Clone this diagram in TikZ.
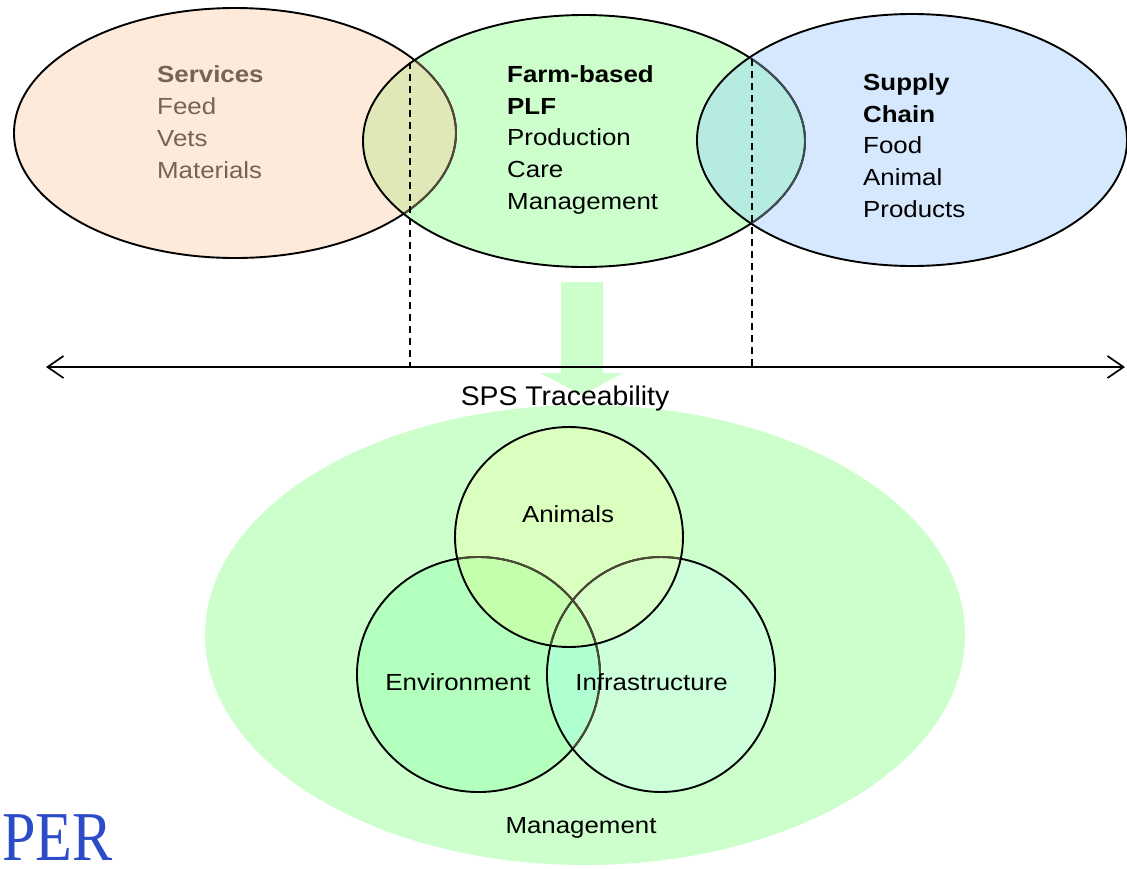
\documentclass[tikz,border=0pt]{standalone}
\usepackage{fontspec}
\setmainfont{Liberation Sans}[FakeStretch=1.11]
\newfontfamily\spsfont{Liberation Sans}[FakeStretch=1.05]
\newfontfamily\perfont{Liberation Serif}[FakeStretch=0.86]
\usetikzlibrary{arrows.meta}
\definecolor{peach}{RGB}{253,234,218}
\definecolor{lgreen}{RGB}{204,255,204}
\definecolor{lblue}{RGB}{213,232,253}
\definecolor{ovL}{RGB}{224,232,184}
\definecolor{ovR}{RGB}{181,235,225}
\definecolor{grayL}{RGB}{85,72,58}
\definecolor{grayR}{RGB}{63,77,85}
\definecolor{grayC}{RGB}{74,74,53}
\definecolor{colA}{RGB}{218,255,190}
\definecolor{colE}{RGB}{178,255,190}
\definecolor{colI}{RGB}{204,255,218}
\definecolor{colAE}{RGB}{196,255,173}
\definecolor{colAI}{RGB}{217,255,200}
\definecolor{colEI}{RGB}{176,255,208}
\definecolor{colAEI}{RGB}{198,255,184}
\definecolor{svc}{RGB}{118,100,82}
\definecolor{perblue}{RGB}{43,75,200}
\begin{document}
\begin{tikzpicture}[x=1pt,y=-1pt,
  bd/.style={draw=black,line width=1.9pt},
  bdL/.style={draw=grayL,line width=1.9pt},
  bdR/.style={draw=grayR,line width=1.9pt},
  bdC/.style={draw=grayC,line width=1.9pt},
  tx/.style={inner sep=0pt,anchor=base west,font=\fontsize{23.3}{28}\selectfont},
  ctx/.style={inner sep=0pt,anchor=base,font=\fontsize{23.3}{28}\selectfont},
  dline/.style={line width=1.5pt,dash pattern=on 7pt off 5pt},
  barb/.tip={Straight Barb[length=16pt,width=22pt]}]
\useasboundingbox (0,0) rectangle (1127,868);
% ---- top ellipses
\def\eL{(235,133) ellipse [x radius=221pt, y radius=125pt]}
\def\eM{(584,141) ellipse [x radius=221pt, y radius=126pt]}
\def\eR{(912,140) ellipse [x radius=215pt, y radius=126pt]}
\fill[peach] \eL;
\fill[lgreen] \eM;
\fill[lblue] \eR;
\begin{scope}\clip \eL; \fill[ovL] \eM; \end{scope}
\begin{scope}\clip \eR; \fill[ovR] \eM; \end{scope}
\draw[bd] \eL;
\begin{scope}\clip \eM; \draw[bdL] \eL; \end{scope}
\draw[bd] \eM;
\begin{scope}\clip \eR; \draw[bdR] \eM; \end{scope}
\draw[bd] \eR;
% texts top
\node[tx,text=svc,font=\fontsize{23.3}{28}\selectfont\bfseries] (svc1) at (157,82) {Services};
\node[tx,text=svc] (svc2) at (157,114) {Feed};
\node[tx,text=svc] (svc3) at (157,146) {Vets};
\node[tx,text=svc] (svc4) at (157,178) {Materials};
\node[tx,font=\fontsize{23.3}{28}\selectfont\bfseries] (plf1) at (507,82) {Farm-based};
\node[tx,font=\fontsize{23.3}{28}\selectfont\bfseries] (plf2) at (507,114) {PLF};
\node[tx] (plf3) at (507,145.5) {Production};
\node[tx] (plf4) at (507,177) {Care};
\node[tx] (plf5) at (507,209) {Management};
\node[tx,font=\fontsize{23.3}{28}\selectfont\bfseries] (sc1) at (863,90) {Supply};
\node[tx,font=\fontsize{23.3}{28}\selectfont\bfseries] (sc2) at (863,122) {Chain};
\node[tx] (sc3) at (863,153.5) {Food};
\node[tx] (sc4) at (863,185) {Animal};
\node[tx] (sc5) at (863,217) {Products};
% ---- big lower ellipse
\fill[lgreen] (585,635) ellipse [x radius=380pt, y radius=230pt];
% ---- green block arrow
\fill[lgreen] (561,282) -- (603,282) -- (603,373) -- (623,373) -- (582,395) -- (540,373) -- (561,373) -- cycle;
% ---- dashed lines and axis
\coordinate (d1a) at (410,62);
\coordinate (d1b) at (410,367);
\coordinate (d2a) at (752,59);
\coordinate (d2b) at (752,367);
\draw[dline] (d1a) -- (d1b);
\draw[dline] (d2a) -- (d2b);
\coordinate (hl) at (46,367);
\coordinate (hr) at (1125,367);
\draw[line width=1.7pt,barb-barb] (hl) -- (hr);
\node[inner sep=0pt,anchor=base,font=\spsfont\fontsize{27}{32}\selectfont] (sps) at (565,405) {SPS Traceability};
% ---- circles
\def\cA{(569,537) ellipse [x radius=114pt, y radius=110pt]}
\def\cE{(478.5,674.5) ellipse [x radius=121.5pt, y radius=117.5pt]}
\def\cI{(661,674.5) ellipse [x radius=114pt, y radius=117.5pt]}
\fill[colE] \cE;
\fill[colI] \cI;
\fill[colA] \cA;
\begin{scope}\clip \cE; \fill[colEI] \cI; \end{scope}
\begin{scope}\clip \cA; \fill[colAE] \cE; \end{scope}
\begin{scope}\clip \cA; \fill[colAI] \cI; \end{scope}
\begin{scope}\clip \cA; \clip \cE; \fill[colAEI] \cI; \end{scope}
\draw[bd] \cE;
\begin{scope}\clip \cI; \draw[bdC] \cE; \end{scope}
\begin{scope}\clip \cA; \draw[bdC] \cE; \end{scope}
\draw[bd] \cI;
\begin{scope}\clip \cA; \draw[bdC] \cI; \end{scope}
\draw[bd] \cA;
\node[ctx] (anim) at (568,522) {Animals};
\node[ctx] (env) at (458,690) {Environment};
\node[ctx] (infra) at (651.5,690) {Infrastructure};
\node[ctx] (mgmt) at (581,833) {Management};
% ---- PER
\node[inner sep=0pt,anchor=base west,text=perblue,font=\perfont\fontsize{70}{80}\selectfont] (per) at (2,860) {PER};
\end{tikzpicture}
\end{document}
